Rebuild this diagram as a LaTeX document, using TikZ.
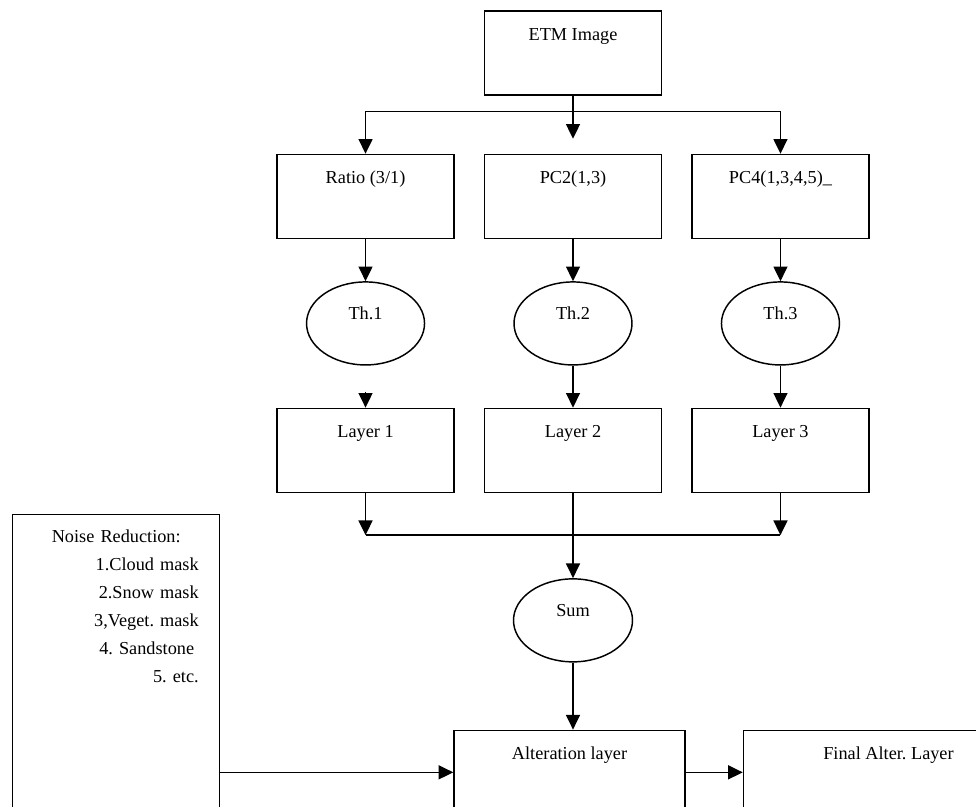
\documentclass[tikz,border=0pt]{standalone}
\usepackage{fontspec}
\setmainfont{Liberation Serif}
\usepackage{tikz}
\usetikzlibrary{arrows.meta, positioning, shapes.geometric, calc}
\frenchspacing

\begin{document}
\begin{tikzpicture}[
  x=0.75pt, y=-0.75pt,
  box/.style={draw, line width=1.1pt, inner sep=0pt, minimum width=132.75pt, text height=21.75pt, text depth=41.25pt, align=center, font=\fontsize{13.7}{16}\selectfont},
  thr/.style={draw, ellipse, line width=1.1pt, inner sep=0pt, minimum width=88.5pt, minimum height=62.25pt, text height=7.5pt, text depth=12.75pt, font=\fontsize{13.7}{16}\selectfont},
  arrow/.style={-{Triangle[length=11pt, width=10.5pt]}, line width=1pt},
  line/.style={line width=1pt},
  node distance=31.5pt and 21.75pt
]
  \useasboundingbox (0,0) rectangle (976,807);

  % sources
  \node[box] (etm) at (573,53) {ETM Image};
  \node[box, below=43.5pt of etm] (pc2) {PC2(1,3)};
  \node[box, left=of pc2] (ratio) {Ratio (3/1)};
  \node[box, right=of pc2] (pc4) {PC4(1,3,4,5)\_};

  % thresholds
  \node[thr, below=of ratio] (th1) {Th.1};
  \node[thr, below=of pc2] (th2) {Th.2};
  \node[thr, below=of pc4] (th3) {Th.3};

  \node[box, below=of th1] (layer1) {Layer 1};
  \node[box, below=of th2] (layer2) {Layer 2};
  \node[box, below=of th3] (layer3) {Layer 3};

  \node[thr, minimum width=89.25pt, below=63.75pt of layer2] (sum) {Sum};
  \node[box, minimum width=173.25pt, below=50.25pt of sum, xshift=-2.6pt] (alter) {Alteration layer};
  \node[box, minimum width=217.5pt, right=42.75pt of alter] (final) {Final Alter. Layer};

  \node[draw, line width=1.1pt, inner sep=0pt, anchor=north west, minimum width=155.25pt, text width=123.75pt, align=right, text height=21pt, text depth=208.5pt, font=\fontsize{13.7}{21}\selectfont] (noise) at (12,514)
    {\makebox[\linewidth]{Noise Reduction:}\\1.Cloud mask\\2.Snow mask\\3,Veget. mask\\4. Sandstone\kern.25em\\5. etc.};

  \coordinate (split) at ($(etm.south)+(0,16)$);
  \coordinate (gap2) at ($(pc2.north)+(0,-15)$);
  \coordinate (gap1) at ($(layer1.north)+(0,-16)$);
  \coordinate (join) at ($(layer2.south)+(0,42)$);

  \draw[arrow] (etm.south) -- (gap2);
  \draw[arrow] (split) -| (ratio.north);
  \draw[arrow] (split) -| (pc4.north);
  \draw[arrow] (ratio) -- (th1);
  \draw[arrow] (pc2) -- (th2);
  \draw[arrow] (pc4) -- (th3);
  \draw[arrow] (gap1) -- (layer1);
  \draw[arrow] (th2) -- (layer2);
  \draw[arrow] (th3) -- (layer3);
  \draw[arrow] (layer1.south) -- (layer1.south |- join);
  \draw[arrow] (layer3.south) -- (layer3.south |- join);
  \draw[line] (layer1.south |- join) -- (layer3.south |- join);
  \draw[arrow] (layer2) -- (sum);
  \draw[arrow] (sum) -- (sum |- alter.north);
  \draw[arrow] (noise.east |- alter.west) -- (alter.west);
  \draw[arrow] (alter) -- (final);
\end{tikzpicture}
\end{document}
